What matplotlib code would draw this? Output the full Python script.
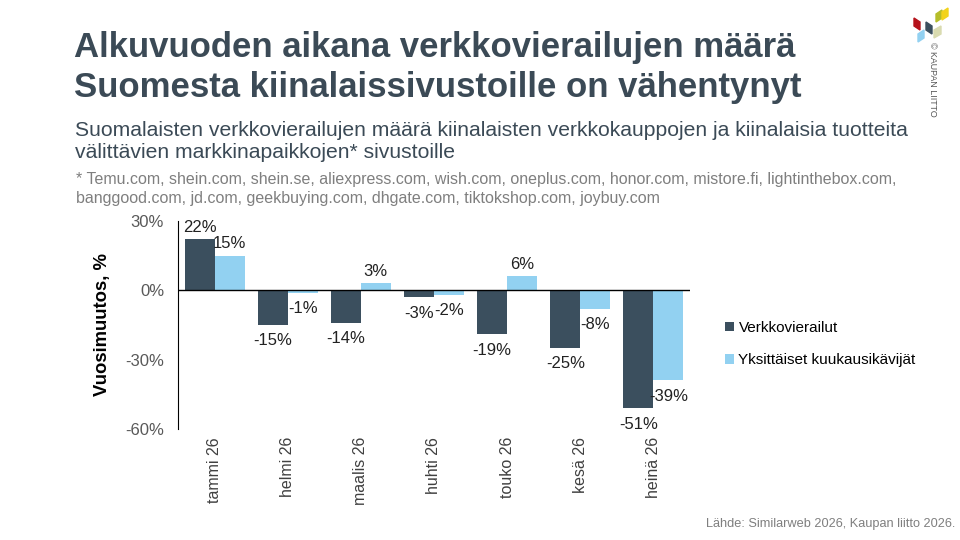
import matplotlib
matplotlib.use('Agg')
import matplotlib.pyplot as plt
from matplotlib.patches import Polygon
import numpy as np

plt.rcParams['font.family'] = ['Liberation Sans', 'DejaVu Sans']

months = ['tammi 26', 'helmi 26', 'maalis 26', 'huhti 26', 'touko 26', 'kesä 26', 'heinä 26']
visits = [22, -15, -14, -3, -19, -25, -51]
visitors = [15, -1, 3, -2, 6, -8, -39]
series_names = ['Verkkovierailut', 'Yksittäiset kuukausikävijät']
yticks = [30, 0, -30, -60]

DARK = '#3b4f5e'
LIGHT = '#92d1f1'
TITLE_C = '#3b4a56'
GRAY = '#7f7f7f'

fig = plt.figure(figsize=(9.6, 5.4), dpi=100)

# titles
fig.text(74 / 960, 1 - 48 / 540, 'Alkuvuoden aikana verkkovierailujen määrä',
         fontsize=25, fontweight='bold', color=TITLE_C, va='center')
fig.text(74 / 960, 1 - 88 / 540, 'Suomesta kiinalaissivustoille on vähentynyt',
         fontsize=25, fontweight='bold', color=TITLE_C, va='center')
fig.text(75 / 960, 1 - 130 / 540,
         'Suomalaisten verkkovierailujen määrä kiinalaisten verkkokauppojen ja kiinalaisia tuotteita',
         fontsize=15.2, color=TITLE_C, va='center')
fig.text(75 / 960, 1 - 152 / 540, 'välittävien markkinapaikkojen* sivustoille',
         fontsize=15.2, color=TITLE_C, va='center')
fig.text(76 / 960, 1 - 180 / 540,
         '* Temu.com, shein.com, shein.se, aliexpress.com, wish.com, oneplus.com, honor.com, mistore.fi, lightinthebox.com,',
         fontsize=11.5, color=GRAY, va='center')
fig.text(76 / 960, 1 - 198 / 540,
         'banggood.com, jd.com, geekbuying.com, dhgate.com, tiktokshop.com, joybuy.com',
         fontsize=11.5, color=GRAY, va='center')
fig.text(955 / 960, 1 - 524 / 540, 'Lähde: Similarweb 2026, Kaupan liitto 2026.',
         fontsize=9.2, color=GRAY, ha='right', va='center')

# chart
ax = fig.add_axes([178 / 960, 1 - 429 / 540, (690 - 178) / 960, (429 - 221) / 540])
x = np.arange(len(months))
w = 0.41
b1 = ax.bar(x - w / 2, visits, w, color=DARK, label=series_names[0])
b2 = ax.bar(x + w / 2, visitors, w, color=LIGHT, label=series_names[1])

for bars, vals in [(b1, visits), (b2, visitors)]:
    for rect, v in zip(bars, vals):
        cx = rect.get_x() + rect.get_width() / 2
        if v >= 0:
            ax.annotate(f'{v}%', (cx, v), xytext=(0, 3), textcoords='offset points',
                        ha='center', va='bottom', fontsize=12, color='#222222')
        else:
            ax.annotate(f'{v}%', (cx, v), xytext=(0, -6), textcoords='offset points',
                        ha='center', va='top', fontsize=12, color='#222222')

ax.set_xlim(-0.5, len(months) - 0.5)
ax.set_ylim(-60, 30)
ax.axhline(0, color='black', lw=1)
ax.set_yticks(yticks)
ax.set_yticklabels([f'{t}%' for t in yticks], fontsize=12, color='#595959')
ax.set_xticks([])
for i, m in enumerate(months):
    ax.annotate(m, (i, 1 - 437 / 540), xycoords=('data', 'figure fraction'),
                ha='center', va='top', rotation=90, fontsize=11.5, color='#404040')
ax.tick_params(axis='y', length=0, pad=10)
for s in ['top', 'right', 'bottom']:
    ax.spines[s].set_visible(False)
ax.spines['left'].set_color('black')
ax.set_ylabel('Vuosimuutos, %', fontsize=13.3, fontweight='bold', labelpad=10)

leg = fig.legend(handles=[b1, b2], loc='upper left', bbox_to_anchor=(711 / 960, 1 - 307 / 540),
                 frameon=False, fontsize=11, handlelength=0.6, handleheight=0.6,
                 handletextpad=0.3, labelspacing=1.2)

# logo
logo = [
    ([(914, 18), (920, 22), (920, 30), (914, 26)], '#b5121b'),
    ([(918, 34), (924, 30), (924, 38), (918, 42)], '#92d1f1'),
    ([(926, 22), (932, 26), (932, 34), (926, 30)], '#3b4f5e'),
    ([(936, 14), (942, 10), (942, 18), (936, 22)], '#b5bd2a'),
    ([(942, 12), (948, 8), (948, 16), (942, 20)], '#f2d31b'),
    ([(934, 30), (941, 26), (941, 34), (934, 38)], '#d9dbb0'),
]
for pts, c in logo:
    fig.patches.append(Polygon([(px / 960, 1 - py / 540) for px, py in pts], closed=True,
                               transform=fig.transFigure, color=c, figure=fig))
fig.text(932 / 960, 1 - 42 / 540, '© KAUPAN LIITTO', rotation=-90, fontsize=6.4,
         color='#555555', ha='center', va='top')

fig.savefig('out.png', dpi=100)
